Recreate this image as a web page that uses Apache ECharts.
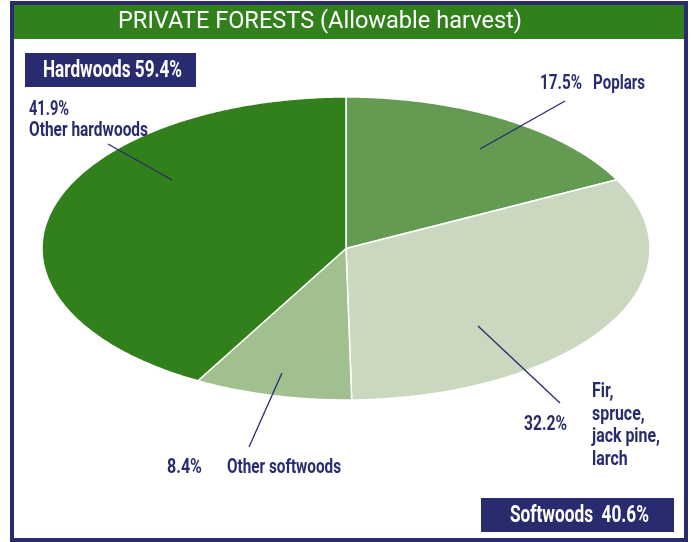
<!DOCTYPE html>
<html>
<head>
<meta charset="utf-8">
<script src="https://cdn.jsdelivr.net/npm/echarts@6/dist/echarts.min.js"></script>
<style>
html,body{margin:0;padding:0;background:#fff;}
#chart{width:693px;height:542px;}
</style>
</head>
<body>
<div id="chart"></div>
<script>
// ---- data ----
const categories = ['Poplars', 'Fir, spruce, jack pine, larch', 'Other softwoods', 'Other hardwoods'];
const shares = [17.5, 32.2, 8.4, 41.9];
const groupNames = ['Hardwoods', 'Softwoods'];
const groupShares = [59.4, 40.6];
const title = 'PRIVATE FORESTS (Allowable harvest)';

// ---- styles / layout ----
const colors = ['#659a53', '#cad8c0', '#a2bf90', '#31801c'];
const NAVY = '#282b6e';
const GREEN = '#31801c';
const FAMILY = 'Roboto, "DejaVu Sans", sans-serif';
const ell = { cx: 346, cy: 248.5, rx: 304, ry: 151.5 };

const total = shares.reduce((a, b) => a + b, 0);
const starts = [];
let acc = 0;
shares.forEach(v => { starts.push(acc); acc += v; });

function sectorPoints(a0, a1) {
  const pts = [[ell.cx, ell.cy]];
  const n = Math.max(4, Math.ceil((a1 - a0) / 0.01));
  for (let i = 0; i <= n; i++) {
    const t = a0 + (a1 - a0) * i / n;
    pts.push([ell.cx + ell.rx * Math.sin(t), ell.cy - ell.ry * Math.cos(t)]);
  }
  return pts;
}

const mctx = document.createElement('canvas').getContext('2d');
function measure(text, font) {
  mctx.font = font;
  return Math.max.apply(null, text.split('\n').map(s => mctx.measureText(s).width));
}

// text fitted (condensed) to a target width
function txt(text, x, y, targetW, o) {
  o = o || {};
  const font = (o.weight || 'bold') + ' ' + (o.size || 20) + 'px ' + FAMILY;
  const w = measure(o.measureText || text, font);
  return {
    type: 'text', x: x, y: y, z: 20,
    scaleX: targetW / w,
    style: {
      text: text, fill: o.fill || NAVY, font: font,
      textAlign: o.align || 'left',
      textVerticalAlign: o.valign || 'middle',
      lineHeight: o.lineHeight
    }
  };
}
function line(x1, y1, x2, y2) {
  return { type: 'line', z: 20, shape: { x1, y1, x2, y2 }, style: { stroke: NAVY, lineWidth: 1.3 } };
}

const graphics = [
  // frame
  { type: 'rect', z: 1, shape: { x: 12, y: 3, width: 674, height: 537 }, style: { fill: '#fff', stroke: NAVY, lineWidth: 4 } },
  { type: 'rect', z: 2, shape: { x: 14, y: 5, width: 670, height: 34 }, style: { fill: GREEN } },
  txt(title, 320, 22, 404, { weight: 'normal', size: 24, fill: '#fff', align: 'center' }),
  // group boxes
  { type: 'rect', z: 2, shape: { x: 25, y: 53, width: 171, height: 34 }, style: { fill: NAVY } },
  txt(groupNames[0] + ' ' + groupShares[0].toFixed(1) + '%', 112.5, 71, 139, { size: 23, fill: '#fff', align: 'center' }),
  { type: 'rect', z: 2, shape: { x: 481, y: 498, width: 193, height: 34 }, style: { fill: NAVY } },
  txt(groupNames[1] + '  ' + groupShares[1].toFixed(1) + '%', 579.5, 516, 139, { size: 23, fill: '#fff', align: 'center' }),
  // slice labels
  txt(shares[0].toFixed(1) + '%', 540, 84, 42),
  txt(categories[0], 593, 84, 52),
  txt(shares[3].toFixed(1) + '%', 29, 110, 40),
  txt(categories[3], 29, 131, 119),
  txt(shares[2].toFixed(1) + '%', 167, 468, 35),
  txt(categories[2], 227, 468, 114),
  txt(shares[1].toFixed(1) + '%', 524, 425, 43),
  txt(categories[1].replace(/, /g, ',\n'), 592, 381, 68, { valign: 'top', lineHeight: 22.5, measureText: 'jack pine,' }),
  // leader lines
  line(565, 101, 480, 149),
  line(108, 144, 172, 180),
  line(282, 373, 249, 447),
  line(478, 326, 560, 403)
];

const chart = echarts.init(document.getElementById('chart'), null, { renderer: 'canvas' });
chart.setOption({
  animation: false,
  graphic: graphics,
  series: [{
    type: 'custom',
    coordinateSystem: 'none',
    z: 10,
    data: shares.map((v, i) => ({ value: v, name: categories[i] })),
    renderItem: function (params, api) {
      const i = params.dataIndex;
      const a0 = starts[i] / total * Math.PI * 2;
      const a1 = (starts[i] + shares[i]) / total * Math.PI * 2;
      return {
        type: 'polygon',
        z2: 10,
        shape: { points: sectorPoints(a0, a1) },
        style: { fill: colors[i], stroke: '#ffffff', lineWidth: 1.5, lineJoin: 'round' }
      };
    }
  }]
});
</script>
</body>
</html>
